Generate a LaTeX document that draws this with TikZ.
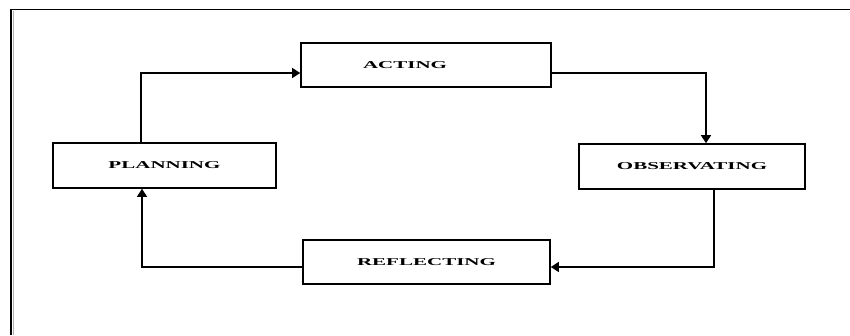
\documentclass[tikz,border=0pt]{standalone}
\usepackage{fontspec}
\setmainfont{Liberation Serif}
\usetikzlibrary{arrows.meta}
\tikzset{
  stagebox/.style={draw=black, line width=1.6pt, fill=white, inner sep=0pt},
  flow/.style={draw=black, line width=1.3pt, -{Triangle[length=8pt,width=10pt]}},
  lbl/.style={font=\fontsize{10.5}{12}\selectfont\bfseries}
}
\newcommand{\wide}[1]{\scalebox{2}[1]{#1}}
\begin{document}
\begin{tikzpicture}[x=1pt,y=-1pt]
\useasboundingbox (0,0) rectangle (850,335);
\fill[white] (0,0) rectangle (850,335);
% frame
\draw[line width=1.6pt] (11,335) -- (11,9.5) -- (850,9.5);
\draw[line width=1pt, gray!60] (13.5,335) -- (13.5,11);
% boxes
\node[stagebox, lbl, minimum width=250pt, minimum height=44pt] (act) at (426,65) {\hspace*{-42pt}\wide{ACTING}};
\node[stagebox, lbl, minimum width=223pt, minimum height=45pt] (plan) at (164.5,165.5) {\wide{PLANNING}};
\node[stagebox, lbl, minimum width=226pt, minimum height=45pt] (obs) at (692,166.5) {\wide{OBSERVATING}};
\node[stagebox, lbl, minimum width=247pt, minimum height=44pt] (ref) at (426.5,262) {\wide{REFLECTING}};
% connectors
\coordinate (c1) at (141,73);
\coordinate (c2) at (706,73);
\coordinate (c3) at (714,267);
\coordinate (c4) at (142,267);
\draw[flow] (plan.north -| c1) -- (c1) -- (c1 -| act.west);
\draw[flow] (act.east |- c2) -- (c2) -- (c2 |- obs.north);
\draw[flow] (obs.south -| c3) -- (c3) -- (c3 -| ref.east);
\draw[flow] (ref.west |- c4) -- (c4) -- (c4 |- plan.south);
\end{tikzpicture}
\end{document}
